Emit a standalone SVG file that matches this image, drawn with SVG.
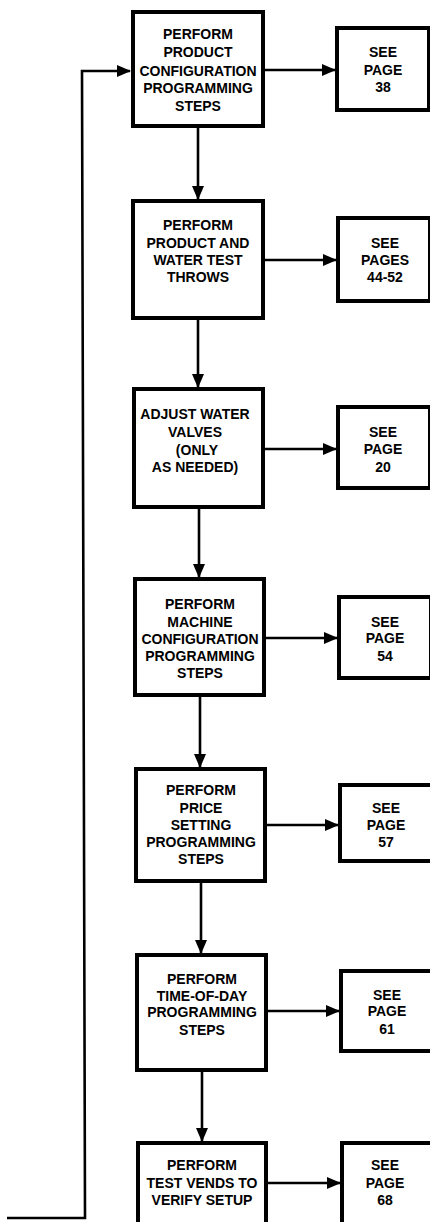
<svg xmlns="http://www.w3.org/2000/svg" width="430" height="1222" viewBox="0 0 430 1222">
<style>
.box{fill:#fff;stroke:#000;stroke-width:4}
.t{font-family:"Liberation Sans",Arial,sans-serif;font-weight:bold;font-size:14px;text-anchor:middle;fill:#000}
.c{fill:none;stroke:#000;stroke-width:2.6}
</style>
<defs>
<marker id="ah" markerUnits="userSpaceOnUse" markerWidth="14" markerHeight="14" viewBox="0 0 14 14" refX="13" refY="7" orient="auto">
<path d="M0,1 L14,7 L0,13 Z" fill="#000"/>
</marker>
</defs>
<rect width="430" height="1222" fill="#fff"/>
<g id="connectors">
<path class="c" d="M7,1218 L85,1218 L82,71 L130,71" marker-end="url(#ah)"/>
<line class="c" x1="265" y1="70" x2="335" y2="70" marker-end="url(#ah)"/>
<line class="c" x1="265" y1="260" x2="336" y2="260" marker-end="url(#ah)"/>
<line class="c" x1="265" y1="449" x2="336" y2="449" marker-end="url(#ah)"/>
<line class="c" x1="266" y1="638" x2="337" y2="638" marker-end="url(#ah)"/>
<line class="c" x1="267" y1="825" x2="338" y2="825" marker-end="url(#ah)"/>
<line class="c" x1="268" y1="1011" x2="339" y2="1011" marker-end="url(#ah)"/>
<line class="c" x1="268" y1="1183" x2="340" y2="1183" marker-end="url(#ah)"/>
<line class="c" x1="198" y1="128" x2="198" y2="199" marker-end="url(#ah)"/>
<line class="c" x1="198" y1="320" x2="198" y2="387" marker-end="url(#ah)"/>
<line class="c" x1="199" y1="509" x2="199" y2="577" marker-end="url(#ah)"/>
<line class="c" x1="200" y1="697" x2="200" y2="767" marker-end="url(#ah)"/>
<line class="c" x1="201" y1="883" x2="201" y2="953" marker-end="url(#ah)"/>
<line class="c" x1="202" y1="1072" x2="202" y2="1141" marker-end="url(#ah)"/>
</g>
<g id="n1">
<rect class="box" x="133" y="12" width="130" height="114"/>
<text class="t" x="198" y="39">PERFORM</text>
<text class="t" x="198" y="57">PRODUCT</text>
<text class="t" x="198" y="76">CONFIGURATION</text>
<text class="t" x="198" y="93">PROGRAMMING</text>
<text class="t" x="198" y="111">STEPS</text>
</g>
<g id="s1">
<rect class="box" x="337" y="28" width="92" height="82"/>
<text class="t" x="383" y="57">SEE</text>
<text class="t" x="383" y="75">PAGE</text>
<text class="t" x="383" y="92">38</text>
</g>
<g id="n2">
<rect class="box" x="133" y="201" width="130" height="117"/>
<text class="t" x="198" y="230">PERFORM</text>
<text class="t" x="198" y="248">PRODUCT AND</text>
<text class="t" x="198" y="265">WATER TEST</text>
<text class="t" x="198" y="282">THROWS</text>
</g>
<g id="s2">
<rect class="box" x="338" y="218" width="92" height="83"/>
<text class="t" x="385" y="248">SEE</text>
<text class="t" x="385" y="265">PAGES</text>
<text class="t" x="385" y="282">44-52</text>
</g>
<g id="n3">
<rect class="box" x="134" y="389" width="129" height="118"/>
<text class="t" x="195" y="419">ADJUST WATER</text>
<text class="t" x="195" y="437">VALVES</text>
<text class="t" x="197" y="455">(ONLY</text>
<text class="t" x="195" y="472">AS NEEDED)</text>
</g>
<g id="s3">
<rect class="box" x="338" y="407" width="92" height="81"/>
<text class="t" x="383" y="437">SEE</text>
<text class="t" x="383" y="454">PAGE</text>
<text class="t" x="383" y="472">20</text>
</g>
<g id="n4">
<rect class="box" x="135" y="579" width="129" height="116"/>
<text class="t" x="200" y="609">PERFORM</text>
<text class="t" x="200" y="627">MACHINE</text>
<text class="t" x="200" y="644">CONFIGURATION</text>
<text class="t" x="200" y="661">PROGRAMMING</text>
<text class="t" x="200" y="678">STEPS</text>
</g>
<g id="s4">
<rect class="box" x="339" y="597" width="92" height="81"/>
<text class="t" x="385" y="627">SEE</text>
<text class="t" x="385" y="643">PAGE</text>
<text class="t" x="385" y="661">54</text>
</g>
<g id="n5">
<rect class="box" x="136" y="769" width="129" height="112"/>
<text class="t" x="201" y="795">PERFORM</text>
<text class="t" x="201" y="813">PRICE</text>
<text class="t" x="201" y="830">SETTING</text>
<text class="t" x="201" y="847">PROGRAMMING</text>
<text class="t" x="201" y="864">STEPS</text>
</g>
<g id="s5">
<rect class="box" x="340" y="785" width="92" height="76"/>
<text class="t" x="386" y="813">SEE</text>
<text class="t" x="386" y="830">PAGE</text>
<text class="t" x="386" y="847">57</text>
</g>
<g id="n6">
<rect class="box" x="137" y="955" width="129" height="115"/>
<text class="t" x="202" y="984">PERFORM</text>
<text class="t" x="202" y="1001">TIME-OF-DAY</text>
<text class="t" x="202" y="1017">PROGRAMMING</text>
<text class="t" x="202" y="1035">STEPS</text>
</g>
<g id="s6">
<rect class="box" x="341" y="971" width="92" height="80"/>
<text class="t" x="387" y="1000">SEE</text>
<text class="t" x="387" y="1016">PAGE</text>
<text class="t" x="387" y="1034">61</text>
</g>
<g id="n7">
<rect class="box" x="138" y="1143" width="128" height="100"/>
<text class="t" x="202" y="1170">PERFORM</text>
<text class="t" x="202" y="1188">TEST VENDS TO</text>
<text class="t" x="202" y="1205">VERIFY SETUP</text>
</g>
<g id="s7">
<rect class="box" x="342" y="1143" width="92" height="100"/>
<text class="t" x="385" y="1170">SEE</text>
<text class="t" x="385" y="1188">PAGE</text>
<text class="t" x="385" y="1205">68</text>
</g>
</svg>
